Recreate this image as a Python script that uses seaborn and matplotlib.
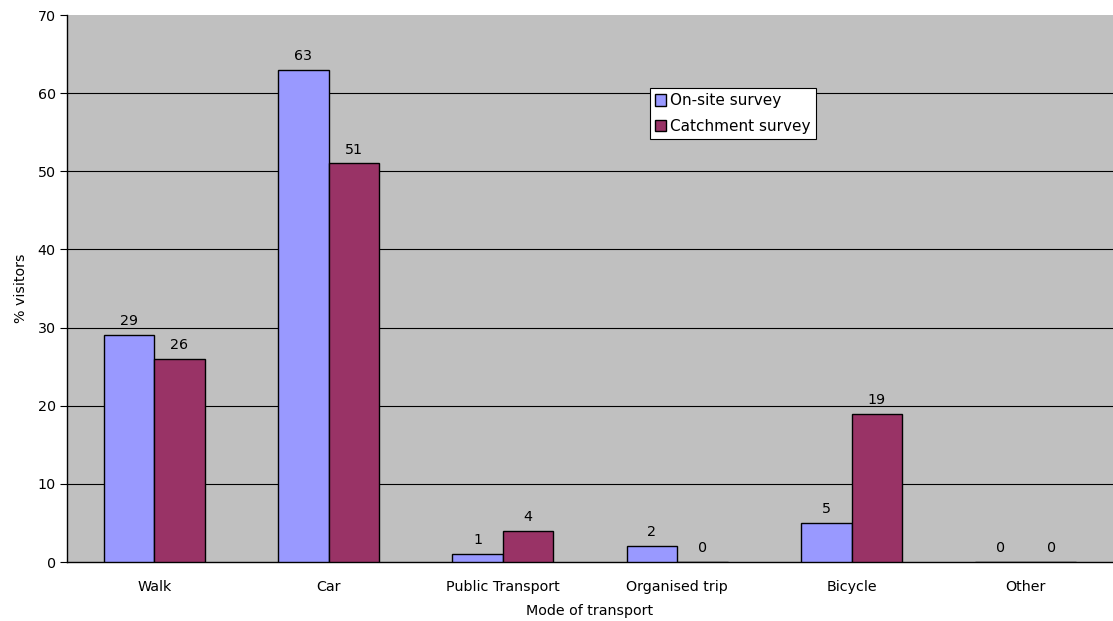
import matplotlib
matplotlib.use("Agg")
import matplotlib.pyplot as plt
import seaborn as sns
import pandas as pd
import numpy as np

modes = ["Walk", "Car", "Public Transport", "Organised trip", "Bicycle", "Other"]
onsite = [29, 63, 1, 2, 5, 0]
catchment = [26, 51, 4, 0, 19, 0]
series = ["On-site survey", "Catchment survey"]
colors = ["#9999FF", "#993366"]
yticks = list(range(0, 71, 10))

df = pd.DataFrame({
    "mode": modes * 2,
    "pct": onsite + catchment,
    "survey": [series[0]] * len(modes) + [series[1]] * len(modes),
})

sns.set_style("white")
plt.rcParams["font.family"] = ["DejaVu Sans"]
fs = 10.3

fig = plt.figure(figsize=(11.13, 6.21), dpi=100)
ax = fig.add_axes([0.0602, 0.095, 0.9398, 0.8808])
ax.set_facecolor("#C0C0C0")

sns.barplot(data=df, x="mode", y="pct", hue="survey", palette=colors,
            saturation=1, width=0.58, gap=0, edgecolor="black", linewidth=1,
            ax=ax, zorder=3)

for c in ax.containers:
    ax.bar_label(c, fmt="%d", padding=5, fontsize=fs, color="black")

ax.set_ylim(0, 70)
ax.set_xlim(-0.5, len(modes) - 0.5)
ax.set_yticks(yticks)
# gridlines in between, none on the top edge
ax.hlines(yticks[1:-1], -0.5, len(modes) - 0.5, colors="black", linewidth=0.8, zorder=1)

ax.set_xticks(np.arange(len(modes)))
ax.set_xticklabels(modes, fontsize=fs)
ax.set_xticks(np.arange(-0.5, len(modes) + 0.5, 1), minor=True)
ax.tick_params(axis="x", which="major", length=0, pad=13, labelcolor="black")
ax.tick_params(axis="x", which="minor", length=5, width=0.8, color="black", direction="out")
ax.tick_params(axis="y", length=5, width=0.8, color="black", direction="out",
               labelsize=fs, pad=3, labelcolor="black")
ax.tick_params(axis="both", bottom=True, left=True)

for s in ["top", "right"]:
    ax.spines[s].set_visible(False)
for s in ["left", "bottom"]:
    ax.spines[s].set_color("black")
    ax.spines[s].set_linewidth(1)

ax.set_xlabel("Mode of transport", fontsize=fs, labelpad=7, color="black")
ax.set_ylabel("% visitors", fontsize=fs, labelpad=7, color="black")

leg = ax.legend(loc="upper left", bbox_to_anchor=(0.557, 0.8665), fontsize=fs + 0.7,
                frameon=True, fancybox=False, edgecolor="black",
                handlelength=0.75, handleheight=0.75, handletextpad=0.25,
                borderpad=0.35, labelspacing=0.7, borderaxespad=0)
leg.get_frame().set_linewidth(0.8)
leg.get_frame().set_facecolor("white")
leg.get_frame().set_alpha(1)
for t in leg.get_texts():
    t.set_color("black")

fig.savefig("out.png", dpi=100, facecolor="white")
